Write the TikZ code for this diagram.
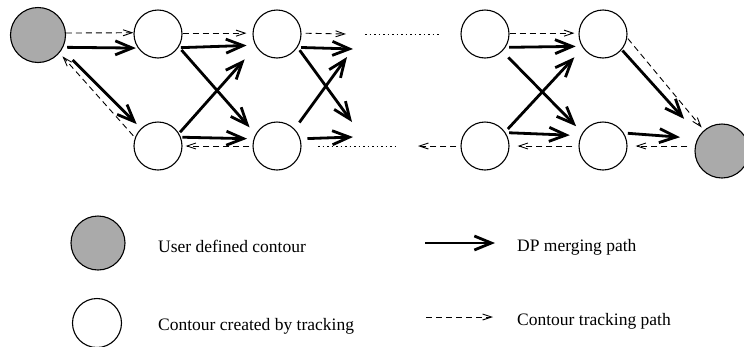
\documentclass[tikz,border=0pt]{standalone}
\usepackage{fontspec}
\setmainfont{Liberation Serif}
\usetikzlibrary{arrows.meta}
\definecolor{userfill}{gray}{0.667}

\begin{document}
\begin{tikzpicture}[x=1pt,y=-1pt,
    contour/.style={circle,draw,line width=1.1pt,minimum size=48pt,inner sep=0pt},
    usercontour/.style={contour,fill=userfill,minimum size=55pt},
    dpmerge/.style={line width=2.8pt,-{Straight Barb[length=17pt,width=14pt]}},
    tracking/.style={line width=0.9pt,dash pattern=on 6pt off 4pt,-{Straight Barb[length=9pt,width=6pt]}},
    dotline/.style={line width=1pt,dash pattern=on 1.5pt off 3pt},
    keytext/.style={anchor=base west,inner sep=0pt,font=\fontsize{17.5}{20}\selectfont}]
        \useasboundingbox (0,0) rectangle (744,346);
        \clip (0,0) rectangle (744,346);
        % contours
        \node[usercontour] (S) at (38,35) {};
        \node[contour] (A1) at (158,34) {};
        \node[contour] (A2) at (277,34) {};
        \node[contour] (A3) at (485,34) {};
        \node[contour] (A4) at (603,34) {};
        \node[contour] (B1) at (158,146) {};
        \node[contour] (B2) at (277,146) {};
        \node[contour] (B3) at (485,146) {};
        \node[contour] (B4) at (603,146) {};
        \node[usercontour,minimum size=54pt] (E) at (722,151) {};
        % free ends in the middle
        \coordinate (t2) at (346,34);
        \coordinate (t3) at (418,146);
        \coordinate (m2) at (353,49);
        \coordinate (m2d) at (352,122);
        \coordinate (m2u) at (347,57);
        \coordinate (m2b) at (353,137);
        \coordinate (d1) at (365,34);
        \coordinate (d2) at (440,34);
        \coordinate (d3) at (318,146);
        \coordinate (d4) at (397,146);
        % tracking paths
        \draw[tracking] (S.4) -- (A1.177);
        \draw[tracking,shorten >=6pt] (A1.2) -- (A2.178);
        \draw[tracking,shorten <=4pt] (A2.2) -- (t2);
        \draw[tracking,shorten >=4pt] (A3.2) -- (A4.178);
        \draw[tracking,shorten <=1pt,shorten >=3.5pt] (A4.-9) -- (E.131);
        \draw[tracking,shorten <=7pt,shorten >=8pt] (B4 -| E.west) -- (B4.east);
        \draw[tracking,shorten <=6pt,shorten >=8pt] (B4.west) -- (B3.east);
        \draw[tracking,shorten <=4pt] (B3.west) -- (t3);
        \draw[tracking,shorten <=3pt,shorten >=3pt] (B2.west) -- (B1.east);
        \draw[tracking,shorten <=2.5pt,shorten >=4.5pt] (B1.160) -- (S.-40);
        % dotted gaps
        \draw[dotline] (d1) -- (d2);
        \draw[dotline] (d3) -- (d4);
        % DP merging paths
        \draw[dpmerge,shorten <=4pt,shorten >=2pt] (S.-26) -- (A1.-145);
        \draw[dpmerge,shorten <=15pt,shorten >=6pt] (S.-31) -- (B1.134);
        \draw[dpmerge,shorten <=2.5pt,shorten >=8.5pt] (A1.-34) -- (A2.-153);
        \draw[dpmerge,shorten <=4pt,shorten >=9pt] (A1.-32) -- (B2.151);
        \draw[dpmerge,shorten <=1.5pt,shorten >=17pt] (B1.31) -- (A2.-149);
        \draw[dpmerge,shorten <=1.5pt,shorten >=6.5pt] (B1.21) -- (B2.163);
        \draw[dpmerge,shorten <=3.5pt] (A2.-33) -- (m2);
        \draw[dpmerge,shorten <=3.5pt] (A2.-33) -- (m2d);
        \draw[dpmerge,shorten <=8pt] (B2.44) -- (m2u);
        \draw[dpmerge,shorten <=7pt] (B2.17) -- (m2b);
        \draw[dpmerge,shorten <=3.5pt,shorten >=6pt] (A3.-33) -- (A4.-150);
        \draw[dpmerge,shorten <=8.5pt,shorten >=9pt] (A3.-45) -- (B4.147);
        \draw[dpmerge,shorten <=4pt,shorten >=12.5pt] (B3.35) -- (A4.-145);
        \draw[dpmerge,shorten <=3.5pt,shorten >=11pt] (B3.33) -- (B4.155);
        \draw[dpmerge,shorten <=1pt,shorten >=22.5pt] (A4.-40) -- (E.146);
        \draw[dpmerge,shorten <=4pt,shorten >=17.5pt] (B4.32) -- (E.153);
        % key
        \node[usercontour,minimum size=54pt] (keyS) at (98,243) {};
        \node[contour,minimum size=49pt] (keyT) at (97,323) {};
        \node[keytext] (keySt) at (158,252) {User defined contour};
        \node[keytext] (keyTt) at (158,330) {Contour created by tracking};
        \coordinate (km1) at (425,243);
        \coordinate (km2) at (495,243);
        \coordinate (kt1) at (426,317);
        \coordinate (kt2) at (493,317);
        \draw[dpmerge] (km1) -- (km2);
        \draw[tracking] (kt1) -- (kt2);
        \node[keytext] (kmt) at (517,251) {DP merging path};
        \node[keytext] (ktt) at (517,325) {Contour tracking path};
      \end{tikzpicture}
\end{document}
